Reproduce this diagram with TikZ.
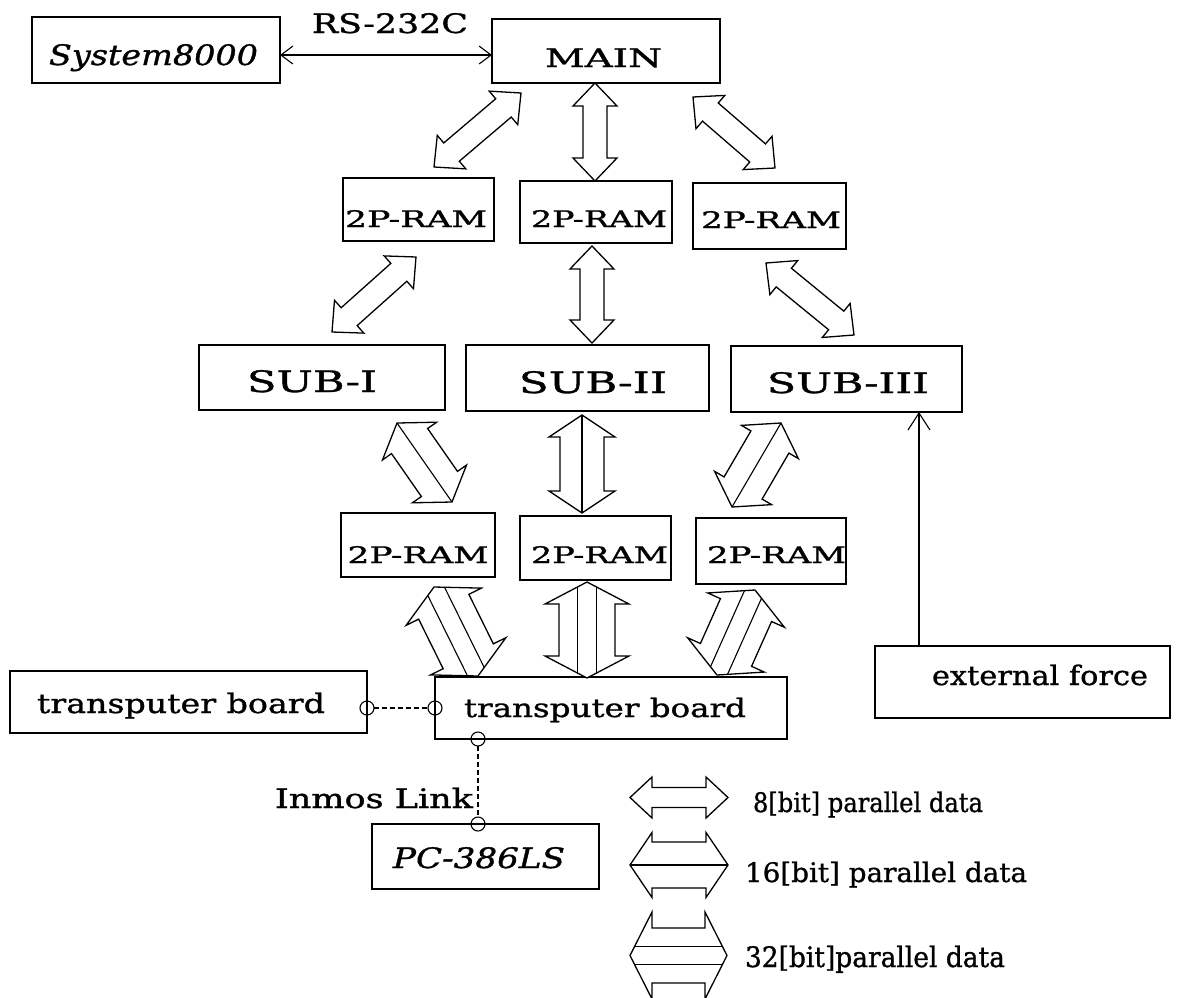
\documentclass[tikz,border=0pt]{standalone}
\usepackage{fontspec}
\setmainfont{DejaVu Serif}[FakeBold=1]
\usetikzlibrary{calc,arrows.meta}

% text set to a given width and cap height, shifted by #1/2 sideways and #2 vertically;
% the box is smashed so that the node centre sits on the baseline
\newcommand\bt[5]{\hspace*{#1pt}\smash{\raisebox{#2pt}{\resizebox{#3pt}{#4pt}{\raisebox{0pt}[0.745em][0pt]{#5}}}}}

% double-headed block arrow between two tips
% #3 shaft half-width, #4 head half-width, #5 head length, #6 inner lines (0, 1 or 2)
\newcommand\dblarrow[6]{%
  \coordinate (da-p) at ($(#1)!#5pt!(#2)$);
  \coordinate (da-q) at ($(#2)!#5pt!(#1)$);
  \draw[blockarrow] (#1) -- ($(da-p)!#4pt!90:(#2)$) -- ($(da-p)!#3pt!90:(#2)$)
    -- ($(da-q)!#3pt!-90:(#1)$) -- ($(da-q)!#4pt!-90:(#1)$) -- (#2)
    -- ($(da-q)!#4pt!90:(#1)$) -- ($(da-q)!#3pt!90:(#1)$)
    -- ($(da-p)!#3pt!-90:(#2)$) -- ($(da-p)!#4pt!-90:(#2)$) -- cycle;
  \ifcase#6\relax
  \or
    \draw[arrowline] (#1) -- (#2);
  \or
    \pgfmathsetmacro\dao{#3/3}%
    \pgfmathsetmacro\dad{#5*#3/(3*#4)}%
    \coordinate (da-s) at ($(#1)!\dad pt!(#2)$);
    \coordinate (da-t) at ($(#2)!\dad pt!(#1)$);
    \draw[arrowline] ($(da-s)!\dao pt!90:(#2)$) -- ($(da-t)!\dao pt!-90:(#1)$);
    \draw[arrowline] ($(da-s)!\dao pt!-90:(#2)$) -- ($(da-t)!\dao pt!90:(#1)$);
  \fi}

\begin{document}
\begin{tikzpicture}[x=1pt,y=-1pt,line width=1.3pt,
  box/.style={draw, inner sep=0pt, outer sep=0pt},
  lbl/.style={inner sep=0pt, outer sep=0pt},
  blockarrow/.style={draw, fill=white, line join=miter},
  arrowline/.style={line width=1.1pt},
  port/.style={circle, draw, inner sep=0pt, outer sep=0pt, minimum size=14pt, line width=1.1pt},
  link/.style={dash pattern=on 5pt off 3pt, line width=1.1pt}]

\fill[white] (0,0) rectangle (1179,997);
\useasboundingbox (0,0) rectangle (1179,997);

% ---- boxes ----
\node[box, minimum width=248pt, minimum height=66pt] (sys) at (156,50)
  {\bt{-5}{-15}{209}{21}{\itshape System8000}};
\node[box, minimum width=228pt, minimum height=64pt] (main) at (606,51)
  {\bt{-5}{-16}{117}{19}{MAIN}};

\node[box, minimum width=151pt, minimum height=63pt] (ram1a) at (418.5,209.5)
  {\bt{-5}{-17.5}{142}{17}{2P-RAM}};
\node[box, minimum width=152pt, minimum height=62pt] (ram1b) at (596,212)
  {\bt{6}{-15}{136}{17}{2P-RAM}};
\node[box, minimum width=153pt, minimum height=66pt] (ram1c) at (769.5,216)
  {\bt{3}{-12}{140}{17}{2P-RAM}};

\node[box, minimum width=246pt, minimum height=65pt] (sub1) at (322,377.5)
  {\bt{-20}{-14.5}{130}{22}{SUB-I}};
\node[box, minimum width=243pt, minimum height=66pt] (sub2) at (587.5,378)
  {\bt{11}{-15}{148}{22}{SUB-II}};
\node[box, minimum width=231pt, minimum height=66pt] (sub3) at (846.5,379)
  {\bt{3}{-14}{162}{21}{SUB-III}};

\node[box, minimum width=154pt, minimum height=64pt] (ram2a) at (418,545)
  {\bt{0}{-18}{141}{17}{2P-RAM}};
\node[box, minimum width=151pt, minimum height=64pt] (ram2b) at (595.5,548)
  {\bt{8}{-15}{137}{17}{2P-RAM}};
\node[box, minimum width=150pt, minimum height=66pt] (ram2c) at (771,551)
  {\bt{11}{-12}{139}{17}{2P-RAM}};

\node[box, minimum width=352pt, minimum height=62pt] (tb) at (611,708)
  {\bt{-12}{-9}{282}{19}{transputer board}};
\node[box, minimum width=357pt, minimum height=62pt] (tbl) at (188.5,702)
  {\bt{-15}{-11}{288}{20}{transputer board}};
\node[box, minimum width=295pt, minimum height=72pt] (ext) at (1022.5,682)
  {\bt{35}{-3}{216}{20}{external force}};
\node[box, minimum width=227pt, minimum height=65pt] (pc) at (485.5,856.5)
  {\bt{-13}{-11.5}{172}{21}{\itshape PC-386LS}};

% ---- serial link to the host ----
\node[lbl] (rs) at (390,33) {\bt{0}{0}{156}{20}{RS-232C}};
\draw[{Straight Barb[length=12pt,width=18pt]}-{Straight Barb[length=12pt,width=18pt]}, line width=1.1pt]
  ([yshift=-5pt]sys.east) -- ([yshift=-4pt]main.west);

% ---- MAIN <-> 2P-RAM (8 bit) ----
\coordinate (a1l-s) at (434,167); \coordinate (a1l-e) at (521,93);
\coordinate (a1m-s) at (595,83);  \coordinate (a1m-e) at (595,181);
\coordinate (a1r-s) at (693,97);  \coordinate (a1r-e) at (775,168);
\dblarrow{a1l-s}{a1l-e}{12}{22}{23}{0}
\dblarrow{a1m-s}{a1m-e}{12}{22}{23}{0}
\dblarrow{a1r-s}{a1r-e}{12}{22}{23}{0}

% ---- 2P-RAM <-> SUB (8 bit) ----
\coordinate (a2l-s) at (416,257); \coordinate (a2l-e) at (332,332);
\coordinate (a2m-s) at (592,246); \coordinate (a2m-e) at (592,343);
\coordinate (a2r-s) at (766,263); \coordinate (a2r-e) at (854,335);
\dblarrow{a2l-s}{a2l-e}{12}{22}{23}{0}
\dblarrow{a2m-s}{a2m-e}{12}{22}{23}{0}
\dblarrow{a2r-s}{a2r-e}{12}{22}{23}{0}

% ---- SUB <-> 2P-RAM (16 bit) ----
\coordinate (a3l-s) at (397,423); \coordinate (a3l-e) at (452,502);
\coordinate (a3m-s) at (582,415); \coordinate (a3m-e) at (582,513);
\coordinate (a3r-s) at (781,423); \coordinate (a3r-e) at (732,507);
\dblarrow{a3l-s}{a3l-e}{22}{33}{22}{1}
\dblarrow{a3m-s}{a3m-e}{22}{33}{22}{1}
\dblarrow{a3r-s}{a3r-e}{22}{33}{22}{1}

% ---- 2P-RAM <-> transputer board (32 bit) ----
\coordinate (a4l-s) at (434,587); \coordinate (a4l-e) at (478,676);
\coordinate (a4m-s) at (587,582); \coordinate (a4m-e) at (587,678);
\coordinate (a4r-s) at (755,590); \coordinate (a4r-e) at (717,675);
\dblarrow{a4l-s}{a4l-e}{28}{42}{22}{2}
\dblarrow{a4m-s}{a4m-e}{28}{42}{22}{2}
\dblarrow{a4r-s}{a4r-e}{28}{42}{22}{2}

% ---- external force into SUB-III ----
\draw[-{Straight Barb[length=17pt,width=22pt]}, line width=1.1pt]
  ([xshift=44pt]ext.north west) -- ([xshift=188pt]sub3.south west);

% ---- Inmos links ----
\node[port] (p1) at (tbl.east |- tb.west) {};
\node[port] (p2) at (tb.west) {};
\node[port] (p3) at ([xshift=43pt]tb.south west) {};
\node[port] (p4) at (pc.north -| p3) {};
\draw[link] (p1) -- (p2);
\draw[link] (p3) -- (p4);
\node[lbl, anchor=east] (inmos) at (473,808) {\bt{0}{0}{198}{20}{Inmos Link}};

% ---- legend ----
\coordinate (l8-s)  at (630,797.5); \coordinate (l8-e)  at (728,797.5);
\coordinate (l16-s) at (630,865);   \coordinate (l16-e) at (728,865);
\coordinate (l32-s) at (630,955.5); \coordinate (l32-e) at (727,955.5);
\dblarrow{l8-s}{l8-e}{10}{20.5}{22}{0}
\dblarrow{l16-s}{l16-e}{23}{32.5}{22}{1}
\dblarrow{l32-s}{l32-e}{27.5}{43.5}{22}{2}
\node[lbl, anchor=west] (lab8)  at (753,812) {\bt{0}{0}{230}{20}{8[bit] parallel data}};
\node[lbl, anchor=west] (lab16) at (745,882) {\bt{0}{0}{282}{20}{16[bit] parallel data}};
\node[lbl, anchor=west] (lab32) at (745,967) {\bt{0}{0}{260}{21}{32[bit]parallel data}};
\end{tikzpicture}
\end{document}
